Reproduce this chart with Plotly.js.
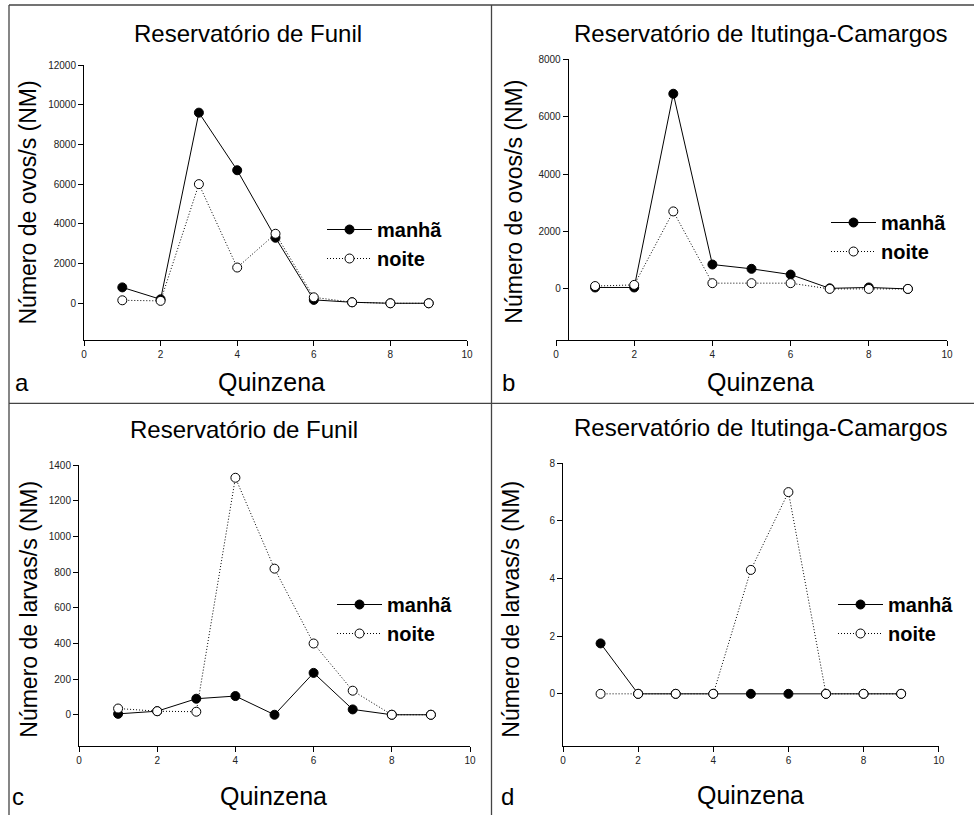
<!DOCTYPE html>
<html>
<head>
<meta charset="utf-8">
<script src="https://cdn.plot.ly/plotly-3.0.1.min.js"></script>
<style>
  html, body { margin: 0; padding: 0; background: #ffffff; }
  #chart { width: 974px; height: 815px; }
</style>
</head>
<body>
<div id="chart"></div>
<script>
// Quinzena (fortnight) index shared by all four panels
const quinzena = [1, 2, 3, 4, 5, 6, 7, 8, 9];
const xTickVals = [0, 2, 4, 6, 8, 10];

// Eggs per second (NM)
const funilOvosManha = [800, 200, 9600, 6700, 3300, 170, 50, 0, 0];
const funilOvosNoite = [150, 120, 6000, 1800, 3500, 300, 50, 0, 0];
const itutingaOvosManha = [50, 50, 6800, 850, 700, 500, 20, 50, 0];
const itutingaOvosNoite = [100, 140, 2700, 200, 200, 200, 0, 0, 0];

// Larvae per second (NM)
const funilLarvasManha = [5, 20, 90, 105, 0, 235, 30, 0, 0];
const funilLarvasNoite = [35, 20, 17, 1330, 820, 400, 135, 0, 0];
const itutingaLarvasManha = [1.75, 0, 0, 0, 0, 0, 0, 0, 0];
const itutingaLarvasNoite = [0, 0, 0, 0, 4.3, 7, 0, 0, 0];

const seriesNames = ['manhã', 'noite'];
const panelTitles = ['Reservatório de Funil', 'Reservatório de Itutinga-Camargos',
                     'Reservatório de Funil', 'Reservatório de Itutinga-Camargos'];
const yTitles = ['Número de ovos/s (NM)', 'Número de ovos/s (NM)',
                 'Número de larvas/s (NM)', 'Número de larvas/s (NM)'];
const xTitle = 'Quinzena';
const panelLetters = ['a', 'b', 'c', 'd'];

const W = 974, H = 815;
const FONT = 'Liberation Sans, Arial, Helvetica, sans-serif';
const px = v => v / W;            // pixel x -> paper fraction
const py = v => 1 - v / H;        // pixel y (from top) -> paper fraction

function pair(xa, ya, manha, noite, legendId) {
  return [
    {
      x: quinzena, y: manha, name: seriesNames[0], xaxis: xa, yaxis: ya,
      type: 'scatter', mode: 'lines+markers', legend: legendId,
      line: { color: '#000', width: 1 },
      marker: { symbol: 'circle', size: 9, color: '#000', line: { color: '#000', width: 1 } }
    },
    {
      x: quinzena, y: noite, name: seriesNames[1], xaxis: xa, yaxis: ya,
      type: 'scatter', mode: 'lines+markers', legend: legendId,
      line: { color: '#000', width: 1, dash: '1px,2px' },
      marker: { symbol: 'circle', size: 9, color: '#fff', line: { color: '#000', width: 1 } }
    }
  ];
}

const data = [].concat(
  pair('x', 'y', funilOvosManha, funilOvosNoite, 'legend'),
  pair('x2', 'y2', itutingaOvosManha, itutingaOvosNoite, 'legend2'),
  pair('x3', 'y3', funilLarvasManha, funilLarvasNoite, 'legend3'),
  pair('x4', 'y4', itutingaLarvasManha, itutingaLarvasNoite, 'legend4')
);

const axisBase = {
  showgrid: false, zeroline: false, showline: true, linecolor: '#000', linewidth: 1,
  ticks: 'outside', ticklen: 5, tickwidth: 1, tickcolor: '#000',
  tickformat: 'd',
  tickfont: { family: FONT, size: 10, color: '#222' }, fixedrange: true
};
function xAxis(domain, anchor) {
  return Object.assign({}, axisBase, { domain: domain, anchor: anchor, range: [0, 10],
    tickmode: 'array', tickvals: xTickVals });
}
function yAxis(domain, range, dtick, extra) {
  return Object.assign({}, axisBase, { domain: domain, range: range, tick0: 0, dtick: dtick }, extra || {});
}

function legendAt(mx, my) {
  return {
    x: px(mx - 26), y: py(my - 20), xanchor: 'left', yanchor: 'top',
    bgcolor: 'rgba(0,0,0,0)', borderwidth: 0, itemwidth: 45, tracegroupgap: 0,
    font: { family: FONT, size: 20, color: '#000', weight: 'bold' }
  };
}

const annotations = [];
function text(t, x, y, size, extra) {
  annotations.push(Object.assign({
    text: t, xref: 'paper', yref: 'paper', x: px(x), y: py(y),
    xanchor: 'center', yanchor: 'middle', showarrow: false,
    font: { family: FONT, size: size, color: '#000' }
  }, extra || {}));
}
// panel titles
text(panelTitles[0], 247.5, 33.7, 24);
text(panelTitles[1], 761, 33.7, 24);
text(panelTitles[2], 243.5, 429.7, 24);
text(panelTitles[3], 761, 427.7, 24);
// x-axis titles
text(xTitle, 271, 382.4, 25);
text(xTitle, 760, 381.7, 25);
text(xTitle, 273, 796.4, 25);
text(xTitle, 750, 794.7, 25);
// y-axis titles
text(yTitles[0], 27, 202.5, 23, { textangle: -90 });
text(yTitles[1], 514, 201.7, 23, { textangle: -90 });
text(yTitles[2], 29, 609.7, 23, { textangle: -90 });
text(yTitles[3], 511, 609.7, 23, { textangle: -90 });
// panel letters
text(panelLetters[0], 22, 382.4, 24);
text(panelLetters[1], 509, 382.4, 24);
text(panelLetters[2], 17.5, 796, 24);
text(panelLetters[3], 507, 796, 24);

// frame lines separating the four panels
const frame = { color: '#444', width: 1.3 };
const shapes = [
  { type: 'line', xref: 'paper', yref: 'paper', x0: px(9), x1: px(974), y0: py(5), y1: py(5), line: frame },
  { type: 'line', xref: 'paper', yref: 'paper', x0: px(9), x1: px(9), y0: py(5), y1: py(815), line: frame },
  { type: 'line', xref: 'paper', yref: 'paper', x0: px(491.5), x1: px(491.5), y0: py(5), y1: py(815), line: frame },
  { type: 'line', xref: 'paper', yref: 'paper', x0: px(9), x1: px(974), y0: py(403.3), y1: py(403.3), line: frame }
];

const layout = {
  width: W, height: H,
  margin: { l: 0, r: 0, t: 0, b: 0 },
  paper_bgcolor: '#fff', plot_bgcolor: 'rgba(0,0,0,0)',
  font: { family: FONT, color: '#000' },
  showlegend: true,
  xaxis: xAxis([px(84), px(467)], 'y'),
  yaxis: yAxis([py(340), py(65)], [-1850, 12000], 2000, { anchor: 'x' }),
  xaxis2: xAxis([px(556), px(947)], 'y2'),
  yaxis2: yAxis([py(340), py(59.3)], [-1780, 8000], 2000, { anchor: 'free', position: px(567.7) }),
  xaxis3: xAxis([px(79), px(470)], 'y3'),
  yaxis3: yAxis([py(746.3), py(465.3)], [-177, 1400], 200, { anchor: 'x3' }),
  xaxis4: xAxis([px(563), px(938.7)], 'y4'),
  yaxis4: yAxis([py(745.7), py(463.3)], [-1.8, 8], 2, { anchor: 'x4' }),
  legend: legendAt(348, 230),
  legend2: legendAt(852, 223),
  legend3: legendAt(358, 605),
  legend4: legendAt(859, 605),
  annotations: annotations,
  shapes: shapes
};

Plotly.newPlot('chart', data, layout, { displayModeBar: false, staticPlot: true });
</script>
</body>
</html>
